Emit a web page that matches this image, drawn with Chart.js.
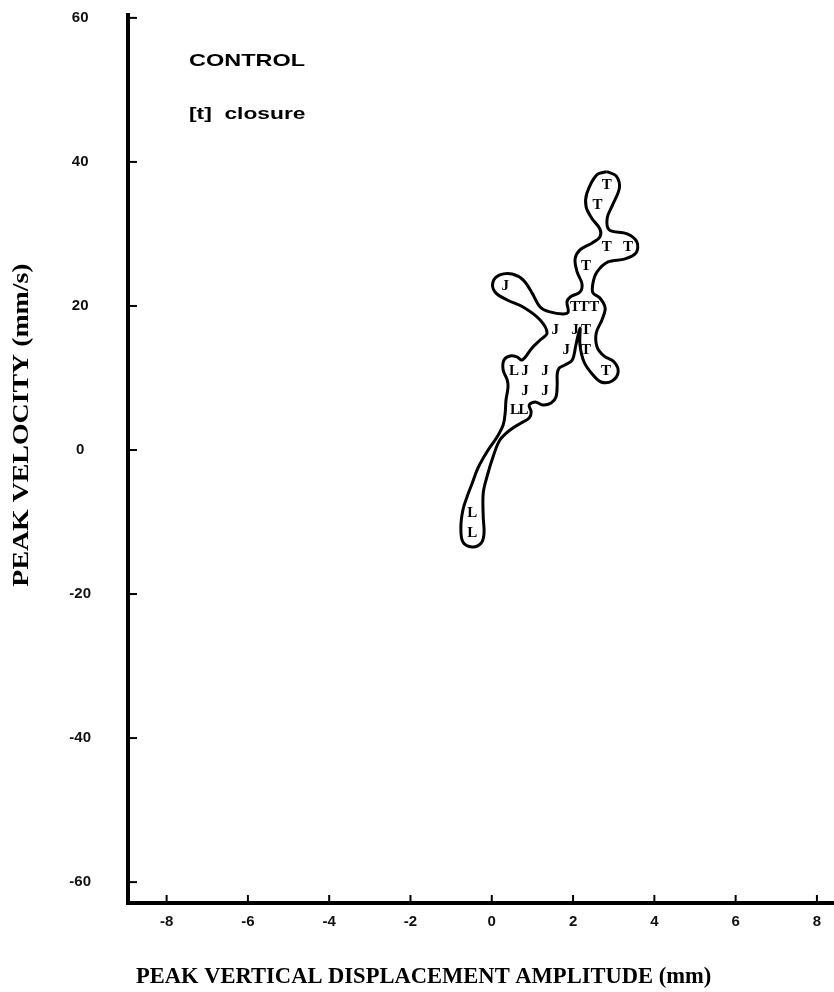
<!DOCTYPE html>
<html>
<head>
<meta charset="utf-8">
<script src="https://cdn.jsdelivr.net/npm/chart.js@4.4.1/dist/chart.umd.min.js"></script>
<style>
  html, body { margin: 0; padding: 0; background: #fff; }
</style>
</head>
<body>
<canvas id="grafico" width="834" height="992"></canvas>
<script>
// valores de las marcas de los ejes
const xTicks = [-8, -6, -4, -2, 0, 2, 4, 6, 8];
const yTicks = [-60, -40, -20, 0, 20, 40, 60];

// tokens de cierre [t]: desplazamiento (mm) y velocidad (mm/s)
const tX = [2.83, 2.60, 2.83, 3.35, 2.32, 2.05, 2.27, 2.52, 2.32, 2.32, 2.81];
const tY = [36.8, 34.0, 28.2, 28.2, 25.6, 19.9, 19.9, 19.9, 16.7, 13.8, 11.0];
const jX = [0.33, 1.56, 2.05, 1.83, 0.82, 1.31, 0.82, 1.31];
const jY = [22.7, 16.7, 16.7, 13.8, 10.9, 10.9, 8.2, 8.2];
const lX = [0.55, 0.57, 0.78, -0.48, -0.48];
const lY = [10.9, 5.5, 5.5, -8.8, -11.6];

// contorno dibujado a mano alrededor de los tokens
const contornoX = [2.83, 3.06, 3.14, 2.97, 2.84, 2.89, 3.33, 3.57, 3.55, 3.28,
  2.86, 2.59, 2.49, 2.49, 2.66, 2.79, 2.71, 2.57, 2.59, 2.76,
  3.01, 3.11, 2.96, 2.69, 2.47, 2.27, 2.17, 2.17, 2.07, 1.98,
  1.80, 1.66, 1.61, 1.61, 1.58, 1.46, 1.26, 1.07, 0.92, 0.97,
  0.92, 0.72, 0.45, 0.20, 0.03, -0.12, -0.21, -0.21, -0.19, -0.26,
  -0.48, -0.71, -0.76, -0.71, -0.61, -0.48, -0.34, -0.12, 0.13, 0.28,
  0.33, 0.35, 0.40, 0.38, 0.28, 0.30, 0.45, 0.62, 0.75, 0.99,
  1.19, 1.36, 1.19, 0.77, 0.38, 0.08, 0.03, 0.20, 0.50, 0.77,
  0.99, 1.19, 1.43, 1.75, 1.88, 1.85, 1.93, 2.17, 2.22, 2.10,
  2.05, 2.17, 2.47, 2.66, 2.66, 2.46, 2.32, 2.34, 2.58];
const contornoY = [38.65, 38.06, 36.39, 34.0, 32.22, 30.56, 30.0, 28.89, 27.36, 26.53,
  26.11, 24.72, 23.19, 21.81, 21.11, 19.72, 18.06, 16.25, 14.31, 13.06,
  12.22, 10.83, 9.58, 9.44, 10.56, 12.22, 14.58, 16.94, 14.58, 12.5,
  11.81, 11.39, 10.56, 9.17, 7.36, 6.53, 6.25, 6.67, 6.25, 5.28,
  4.44, 3.75, 2.78, 1.39, -0.97, -3.75, -5.97, -9.31, -11.53, -12.92,
  -13.47, -12.78, -10.69, -8.33, -6.53, -4.58, -2.5, -0.28, 1.81, 3.47,
  5.14, 6.94, 8.75, 9.72, 11.11, 12.5, 13.06, 12.92, 12.5, 14.17,
  15.28, 16.25, 18.06, 19.86, 20.83, 21.94, 23.33, 24.31, 24.44, 23.61,
  21.81, 19.86, 19.17, 18.89, 19.17, 20.56, 21.25, 21.94, 23.06, 24.72,
  26.53, 27.78, 28.75, 29.58, 30.7, 32.18, 33.79, 35.65, 38.19];

const puntos = (xs, ys) => xs.map((x, i) => ({ x: x, y: ys[i] }));

// contorno cerrado: se repite el primer punto al final
const contorno = puntos(contornoX, contornoY);
contorno.push(contorno[0]);

const fuenteEjes = { family: 'Liberation Sans', size: 15, weight: 'bold' };
const fuenteLetra = 'bold 15px "Liberation Serif"';

// texto con estiramiento horizontal (la rotulación original es ancha)
function texto(ctx, str, x, y, font, sx, ang, align) {
    ctx.save();
    ctx.translate(x, y);
    ctx.rotate(ang);
    ctx.scale(sx, 1);
    ctx.font = font;
    ctx.fillStyle = '#000';
    ctx.textAlign = align;
    ctx.textBaseline = 'middle';
    ctx.fillText(str, 0, 0);
    ctx.restore();
}

// letras de cada token en su posición
const letras = {
    id: 'letras',
    afterDatasetsDraw(chart) {
        const ctx = chart.ctx;
        ctx.save();
        ctx.fillStyle = '#000';
        ctx.textAlign = 'center';
        ctx.textBaseline = 'middle';
        chart.data.datasets.forEach((ds, i) => {
            if (!ds.letra) return;
            ctx.font = ds.fuente;
            chart.getDatasetMeta(i).data.forEach(p => ctx.fillText(ds.letra, p.x, p.y));
        });
        ctx.restore();
    }
};

// marcas hacia dentro y rótulos
const rotulos = {
    id: 'rotulos',
    afterDraw(chart) {
        const { ctx, chartArea, scales: { x, y } } = chart;
        ctx.save();
        ctx.strokeStyle = '#000';
        ctx.lineWidth = 2;
        yTicks.forEach(v => {
            const py = y.getPixelForValue(v);
            ctx.beginPath();
            ctx.moveTo(chartArea.left, py);
            ctx.lineTo(chartArea.left + 9, py);
            ctx.stroke();
        });
        xTicks.forEach(v => {
            const px = x.getPixelForValue(v);
            ctx.beginPath();
            ctx.moveTo(px, chartArea.bottom);
            ctx.lineTo(px, chartArea.bottom - 8);
            ctx.stroke();
        });
        ctx.restore();

        texto(ctx, 'CONTROL', 189, 61, 'bold 17px "Liberation Sans"', 1.38, 0, 'left');
        texto(ctx, '[t]  closure', 189, 114, 'bold 17px "Liberation Sans"', 1.34, 0, 'left');
        texto(ctx, 'PEAK VELOCITY (mm/s)', 22, 425, 'bold 24px "Liberation Serif"', 1.16, -Math.PI / 2, 'center');
        texto(ctx, 'PEAK VERTICAL DISPLACEMENT AMPLITUDE (mm)', 136, 977, 'bold 23px "Liberation Serif"', 0.98, 0, 'left');
    }
};

const ctx = document.getElementById('grafico').getContext('2d');
new Chart(ctx, {
    type: 'scatter',
    data: {
        datasets: [
            {
                label: 'contorno',
                data: contorno,
                showLine: true,
                borderColor: '#000',
                borderWidth: 3,
                pointRadius: 0,
                tension: 0.35,
                fill: false
            },
            { label: 'T', data: puntos(tX, tY), pointRadius: 0, letra: 'T', fuente: fuenteLetra },
            { label: 'J', data: puntos(jX, jY), pointRadius: 0, letra: 'J', fuente: fuenteLetra },
            { label: 'L', data: puntos(lX, lY), pointRadius: 0, letra: 'L', fuente: fuenteLetra }
        ]
    },
    options: {
        responsive: false,
        animation: false,
        devicePixelRatio: 1,
        layout: { autoPadding: false, padding: { top: 15, right: 0, left: 0, bottom: 0 } },
        plugins: {
            legend: { display: false },
            tooltip: { enabled: false }
        },
        scales: {
            x: {
                type: 'linear',
                min: -8.95,
                max: 8.42,
                afterBuildTicks: s => { s.ticks = xTicks.map(v => ({ value: v })); },
                afterFit: s => {
                    s.height = 89;
                    s.paddingLeft = 0;
                    s.paddingRight = 0;
                },
                grid: { drawOnChartArea: false, drawTicks: false },
                border: { display: true, width: 4, color: '#000' },
                ticks: { font: fuenteEjes, color: '#111', padding: 10, maxRotation: 0, autoSkip: false }
            },
            y: {
                type: 'linear',
                min: -62.9,
                max: 60.4,
                afterBuildTicks: s => { s.ticks = yTicks.map(v => ({ value: v })); },
                afterFit: s => {
                    s.width = 128;
                    s.paddingTop = 0;
                    s.paddingBottom = 0;
                },
                grid: { drawOnChartArea: false, drawTicks: false },
                border: { display: true, width: 4, color: '#000' },
                ticks: { font: fuenteEjes, color: '#111', padding: 37, crossAlign: 'center', autoSkip: false }
            }
        }
    },
    plugins: [letras, rotulos]
});
</script>
</body>
</html>
